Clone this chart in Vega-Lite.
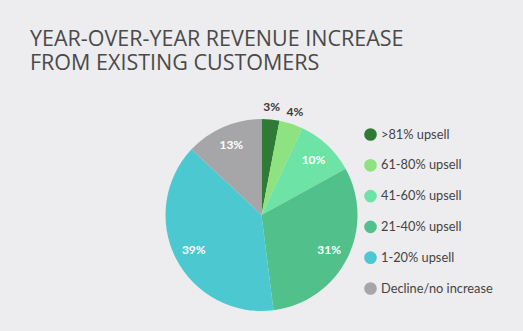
{
  "$schema": "https://vega.github.io/schema/vega-lite/v6.json",
  "autosize": "none",
  "width": 523,
  "height": 232,
  "padding": {"left": 0, "right": 0, "top": 99, "bottom": 0},
  "background": "#ededef",
  "title": {
    "text": ["YEAR-OVER-YEAR REVENUE INCREASE", "FROM EXISTING CUSTOMERS"],
    "anchor": "start",
    "frame": "group",
    "dx": 30,
    "offset": 25,
    "font": "Open Sans",
    "fontSize": 21.5,
    "fontWeight": "normal",
    "color": "#4a4a4a",
    "lineHeight": 23.5
  },
  "config": {"view": {"stroke": null}},
  "data": {
    "values": [
      {"category": ">81% upsell", "rank": 1, "value": 3, "label": "3%"},
      {"category": "61-80% upsell", "rank": 2, "value": 4, "label": "4%"},
      {"category": "41-60% upsell", "rank": 3, "value": 10, "label": "10%"},
      {"category": "21-40% upsell", "rank": 4, "value": 31, "label": "31%"},
      {"category": "1-20% upsell", "rank": 5, "value": 39, "label": "39%"},
      {"category": "Decline/no increase", "rank": 6, "value": 13, "label": "13%"}
    ]
  },
  "encoding": {
    "theta": {"field": "value", "type": "quantitative", "stack": true},
    "order": {"field": "rank", "type": "quantitative"}
  },
  "layer": [
    {
      "mark": {"type": "arc", "outerRadius": 96},
      "encoding": {
        "color": {
          "field": "category",
          "type": "nominal",
          "sort": [">81% upsell", "61-80% upsell", "41-60% upsell", "21-40% upsell", "1-20% upsell", "Decline/no increase"],
          "scale": {
            "domain": [">81% upsell", "61-80% upsell", "41-60% upsell", "21-40% upsell", "1-20% upsell", "Decline/no increase"],
            "range": ["#2f7a35", "#8ee27f", "#6ee3a6", "#52c08a", "#4cc8d0", "#a6a6a8"]
          },
          "legend": {
            "title": null,
            "orient": "none",
            "legendX": 364,
            "legendY": 29,
            "symbolType": "circle",
            "symbolSize": 160,
            "symbolStrokeWidth": 0,
            "symbolOpacity": 1,
            "rowPadding": 16.8,
            "labelFont": "Lato",
            "labelFontSize": 12.8,
            "labelColor": "#444444",
            "labelOffset": 4,
            "labelLimit": 200
          }
        }
      }
    },
    {
      "mark": {"type": "text", "radius": 76, "font": "Lato", "fontWeight": "bold", "fontSize": 12, "color": "white"},
      "encoding": {
        "text": {"condition": {"test": "datum.value >= 5", "field": "label"}, "value": ""}
      }
    },
    {
      "mark": {"type": "text", "radius": 108, "font": "Lato", "fontWeight": "bold", "fontSize": 12, "color": "#3a3a3a"},
      "encoding": {
        "text": {"condition": {"test": "datum.value < 5", "field": "label"}, "value": ""}
      }
    }
  ]
}
